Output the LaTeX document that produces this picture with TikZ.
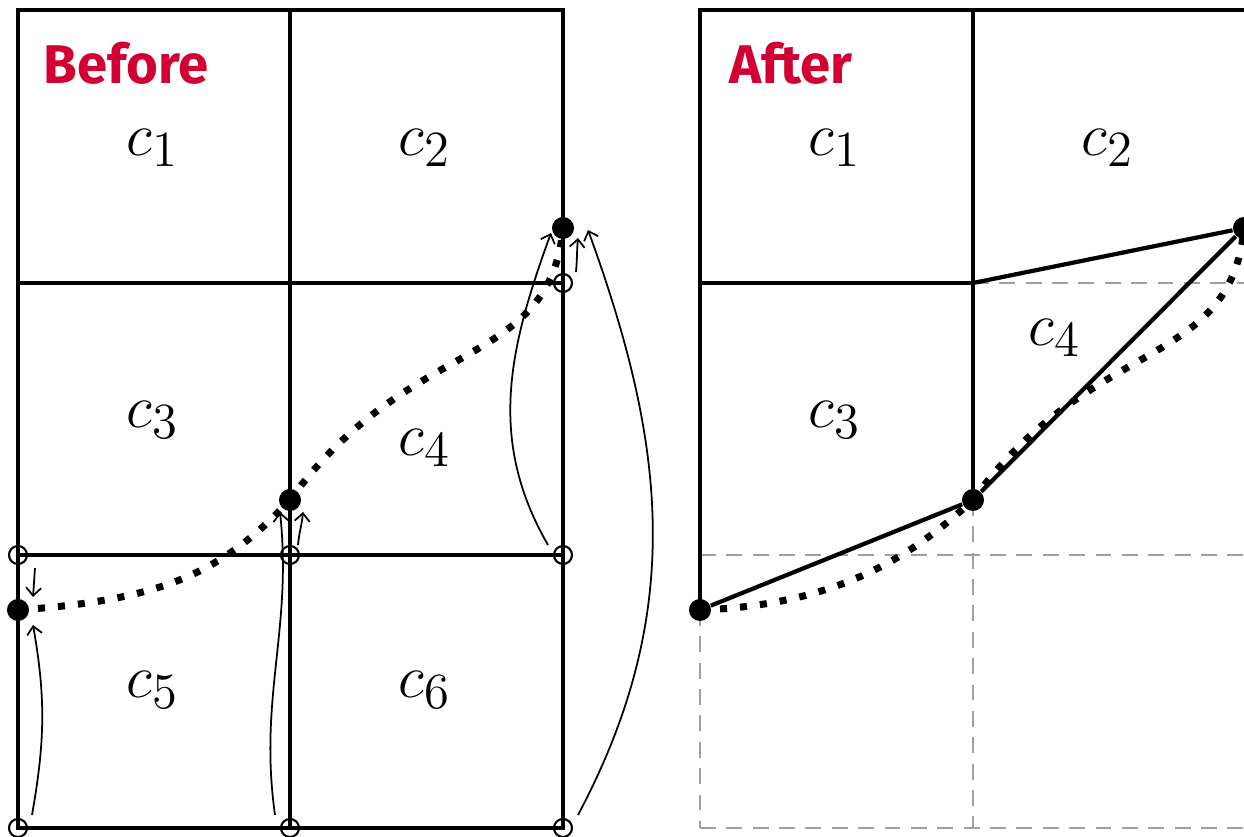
\documentclass[tikz,border=0pt]{standalone}
\usepackage{fontspec}
\newfontfamily\tagfont{Fira Sans}
\usetikzlibrary{arrows.meta,calc}
\definecolor{tagred}{RGB}{210,0,50}
\definecolor{oldgray}{RGB}{160,160,160}

\begin{document}
\begin{tikzpicture}[x=0.01cm, y=-0.01cm,
  cellline/.style={line width=1.2pt},
  oldline/.style={oldgray, line width=0.6pt, dash pattern=on 4.5pt off 3pt},
  vertex/.style={circle, draw, line width=0.6pt, minimum size=0.18cm, inner sep=0pt},
  pin/.style={circle, fill, minimum size=0.22cm, inner sep=0pt},
  route/.style={line width=2pt, dash pattern=on 2pt off 3.7pt},
  move/.style={-{Straight Barb[length=0.8mm,width=1.5mm]}, line width=0.5pt},
  cell/.style={font=\fontsize{19}{22}\selectfont},
  tag/.style={font=\tagfont\bfseries\fontsize{15.5}{18}\selectfont, text=tagred}
]
\useasboundingbox (0,0) rectangle (1244,837);
\clip (0,0) rectangle (1244,837);

% before: cell grid
\draw[cellline] (18,10) rectangle (563,828);
\draw[cellline] (290,10) -- (290,828) (18,283) -- (563,283) (18,555) -- (563,555);

% after: old cell lines and merged cells
\draw[oldline] (973,283) -- (1246,283) (700,555) -- (1246,555) (700,828) -- (1246,828)
  (700,610) -- (700,828) (973,500) -- (973,828) (1246,228) -- (1246,828);
\draw[cellline] (700,610) -- (700,10) -- (1246,10) -- (1246,228);
\draw[cellline] (973,10) -- (973,500) (700,283) -- (973,283);

% grid vertices
\node[vertex] (va) at (18,555) {};
\node[vertex] (vb) at (290,555) {};
\node[vertex] (vc) at (563,555) {};
\node[vertex] (vd) at (563,283) {};
\node[vertex] (ba) at (18,828) {};
\node[vertex] (bb) at (290,828) {};
\node[vertex] (bc) at (563,828) {};
\coordinate (kd) at (973,283);

% moved vertices
\node[pin] (pa) at (18,610) {};
\node[pin] (pb) at (290,500) {};
\node[pin] (pc) at (563,228) {};
\node[pin] (qa) at (700,610) {};
\node[pin] (qb) at (973,500) {};
\node[pin] (qc) at (1244,228) {};

% labels
\node[tag] (before) at (126,63) {Before};
\node[tag] (after) at (791,63) {After};
\node[cell] (c1) at (153,148) {$c_1$};
\node[cell] (c2) at (425,148) {$c_2$};
\node[cell] (c3) at (153,420) {$c_3$};
\node[cell] (c4) at (425,448) {$c_4$};
\node[cell] (c5) at (153,690) {$c_5$};
\node[cell] (c6) at (425,690) {$c_6$};
\node[cell] (d1) at (835,148) {$c_1$};
\node[cell] (d2) at (1108,148) {$c_2$};
\node[cell] (d3) at (835,420) {$c_3$};
\node[cell] (d4) at (1055,338) {$c_4$};

% new cell edges
\draw[cellline] (qa) -- (qb);
\draw[cellline] (qb) -- (qc);
\draw[cellline] (kd) -- (qc);

% curve to fit
\draw[route] (pa.center) .. controls +(142,-10) and +(-70,75) .. (pb.center)
  .. controls +(120,-165) and +(-13,142) .. (pc.center);
\draw[route] (qa.center) .. controls +(140,-5) and +(-60,55) .. (qb.center)
  .. controls +(120,-165) and +(-13,142) .. (qc.center);

% vertex moves
\draw[move] ([shift={(14,-13)}]ba.center) to[out=80,in=-80] ([shift={(15,15)}]pa.center);
\draw[move] ([shift={(17,13)}]va.center) -- ([shift={(15,-13)}]pa.center);
\draw[move] ([shift={(-15,-13)}]bb.center) to[out=98,in=-84] ([shift={(-10,12)}]pb.center);
\draw[move] ([shift={(8,-10)}]vb.center) to[out=85,in=-95] ([shift={(13,12)}]pb.center);
\draw[move] ([shift={(-15,-10)}]vc.center) to[out=120,in=-110] ([shift={(-12,5)}]pc.center);
\draw[move] ([shift={(13,-11)}]vd.center) to[out=85,in=-95] ([shift={(15,10)}]pc.center);
\draw[move] ([shift={(15,-13)}]bc.center) to[out=62,in=-70] ([shift={(25,2)}]pc.center);
\end{tikzpicture}
\end{document}
